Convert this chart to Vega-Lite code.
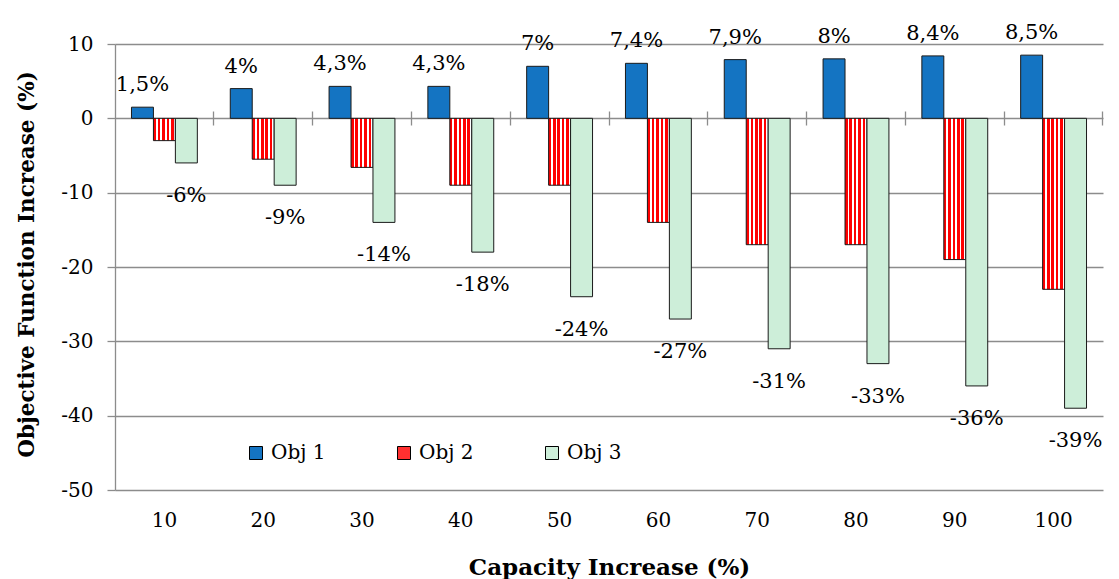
{
  "$schema": "https://vega.github.io/schema/vega-lite/v6.json",
  "width": 988,
  "height": 446,
  "autosize": {"type": "none"},
  "padding": {"left": 115, "top": 44, "right": 16, "bottom": 89},
  "background": "#ffffff",
  "config": {
    "view": {"stroke": null},
    "font": "DejaVu Serif",
    "locale": {"number": {"decimal": ",", "thousands": ".", "grouping": [3], "currency": ["", ""], "minus": "-"}},
    "axis": {"labelFont": "DejaVu Serif", "titleFont": "DejaVu Serif", "labelColor": "#000000", "titleColor": "#000000"}
  },
  "data": {
    "values": [
      {"cat": 10, "series": "Obj 1", "value": 1.5, "label": "1,5%"},
      {"cat": 10, "series": "Obj 2", "value": -3, "label": ""},
      {"cat": 10, "series": "Obj 3", "value": -6, "label": "-6%"},
      {"cat": 20, "series": "Obj 1", "value": 4, "label": "4%"},
      {"cat": 20, "series": "Obj 2", "value": -5.5, "label": ""},
      {"cat": 20, "series": "Obj 3", "value": -9, "label": "-9%"},
      {"cat": 30, "series": "Obj 1", "value": 4.3, "label": "4,3%"},
      {"cat": 30, "series": "Obj 2", "value": -6.6, "label": ""},
      {"cat": 30, "series": "Obj 3", "value": -14, "label": "-14%"},
      {"cat": 40, "series": "Obj 1", "value": 4.3, "label": "4,3%"},
      {"cat": 40, "series": "Obj 2", "value": -9, "label": ""},
      {"cat": 40, "series": "Obj 3", "value": -18, "label": "-18%"},
      {"cat": 50, "series": "Obj 1", "value": 7, "label": "7%"},
      {"cat": 50, "series": "Obj 2", "value": -9, "label": ""},
      {"cat": 50, "series": "Obj 3", "value": -24, "label": "-24%"},
      {"cat": 60, "series": "Obj 1", "value": 7.4, "label": "7,4%"},
      {"cat": 60, "series": "Obj 2", "value": -14, "label": ""},
      {"cat": 60, "series": "Obj 3", "value": -27, "label": "-27%"},
      {"cat": 70, "series": "Obj 1", "value": 7.9, "label": "7,9%"},
      {"cat": 70, "series": "Obj 2", "value": -17, "label": ""},
      {"cat": 70, "series": "Obj 3", "value": -31, "label": "-31%"},
      {"cat": 80, "series": "Obj 1", "value": 8, "label": "8%"},
      {"cat": 80, "series": "Obj 2", "value": -17, "label": ""},
      {"cat": 80, "series": "Obj 3", "value": -33, "label": "-33%"},
      {"cat": 90, "series": "Obj 1", "value": 8.4, "label": "8,4%"},
      {"cat": 90, "series": "Obj 2", "value": -19, "label": ""},
      {"cat": 90, "series": "Obj 3", "value": -36, "label": "-36%"},
      {"cat": 100, "series": "Obj 1", "value": 8.5, "label": "8,5%"},
      {"cat": 100, "series": "Obj 2", "value": -23, "label": ""},
      {"cat": 100, "series": "Obj 3", "value": -39, "label": "-39%"}
    ]
  },
  "resolve": {"axis": {"x": "independent"}},
  "layer": [
    {
      "mark": {"type": "bar", "stroke": "#1a1a1a", "strokeWidth": 1},
      "encoding": {
        "x": {
          "field": "cat", "type": "ordinal",
          "scale": {"paddingInner": 0.3333, "paddingOuter": 0.1667},
          "axis": {
            "orient": "bottom", "domain": false, "ticks": false, "grid": false,
            "labelAngle": 0, "labelFontSize": 20, "labelPadding": 20,
            "title": "Capacity Increase (%)", "titleFontSize": 23, "titleFontWeight": "bold",
            "titleBaseline": "alphabetic", "titleY": 84
          }
        },
        "xOffset": {
          "field": "series", "type": "nominal",
          "scale": {"domain": ["Obj 1", "Obj 2", "Obj 3"], "paddingInner": 0, "paddingOuter": 0}
        },
        "y": {
          "field": "value", "type": "quantitative",
          "scale": {"domain": [-50, 10], "nice": false, "zero": false},
          "axis": {
            "values": [-50, -40, -30, -20, -10, 0, 10],
            "grid": true, "gridColor": "#8c8c8c", "gridWidth": 1.3,
            "domain": true, "domainColor": "#8c8c8c", "domainWidth": 1.3,
            "ticks": true, "tickSize": 8, "tickColor": "#8c8c8c", "tickWidth": 1.3,
            "labelFontSize": 20, "labelPadding": 14,
            "title": "Objective Function Increase (%)", "titleFontSize": 21.5, "titleFontWeight": "bold",
            "titleBaseline": "alphabetic", "titleX": -82, "titleY": 220
          }
        },
        "fill": {
          "condition": {
            "test": "datum.series === 'Obj 2'",
            "value": {
              "gradient": "linear", "x1": 0, "y1": 0, "x2": 1, "y2": 0,
              "stops": [
                {"offset": 0, "color": "#ff0000"}, {"offset": 0.12, "color": "#ff0000"},
                {"offset": 0.12, "color": "#ffffff"}, {"offset": 0.2, "color": "#ffffff"},
                {"offset": 0.2, "color": "#ff0000"}, {"offset": 0.32, "color": "#ff0000"},
                {"offset": 0.32, "color": "#ffffff"}, {"offset": 0.4, "color": "#ffffff"},
                {"offset": 0.4, "color": "#ff0000"}, {"offset": 0.52, "color": "#ff0000"},
                {"offset": 0.52, "color": "#ffffff"}, {"offset": 0.6, "color": "#ffffff"},
                {"offset": 0.6, "color": "#ff0000"}, {"offset": 0.72, "color": "#ff0000"},
                {"offset": 0.72, "color": "#ffffff"}, {"offset": 0.8, "color": "#ffffff"},
                {"offset": 0.8, "color": "#ff0000"}, {"offset": 0.92, "color": "#ff0000"},
                {"offset": 0.92, "color": "#ffffff"}, {"offset": 1, "color": "#ffffff"}
              ]
            }
          },
          "field": "series", "type": "nominal",
          "scale": {"domain": ["Obj 1", "Obj 2", "Obj 3"], "range": ["#1474c2", "#ff3030", "#cdeed9"]},
          "legend": {
            "orient": "none", "direction": "horizontal", "legendX": 131, "legendY": 399,
            "title": null, "symbolType": "square", "symbolSize": 169,
            "symbolStrokeColor": "#000000", "symbolStrokeWidth": 1, "symbolOpacity": 1,
            "labelFont": "DejaVu Serif", "labelFontSize": 20, "labelColor": "#000000",
            "labelOffset": 5, "columnPadding": 68
          }
        }
      }
    },
    {
      "transform": [{"filter": "datum.series === 'Obj 1'"}],
      "mark": {"type": "text", "baseline": "alphabetic", "dy": -16, "fontSize": 21, "font": "DejaVu Serif", "color": "#000000"},
      "encoding": {
        "x": {"field": "cat", "type": "ordinal", "axis": null},
        "xOffset": {"field": "series", "type": "nominal", "scale": {"domain": ["Obj 1", "Obj 2", "Obj 3"]}},
        "y": {"field": "value", "type": "quantitative"},
        "text": {"field": "label", "type": "nominal"}
      }
    },
    {
      "transform": [{"filter": "datum.series === 'Obj 3'"}],
      "mark": {"type": "text", "baseline": "alphabetic", "dy": 39, "fontSize": 21, "font": "DejaVu Serif", "color": "#000000"},
      "encoding": {
        "x": {
          "field": "cat", "type": "ordinal",
          "axis": {
            "orient": "bottom", "offset": -379, "domain": false, "labels": false, "title": null, "grid": false,
            "ticks": true, "tickSize": 14, "tickColor": "#8c8c8c", "tickWidth": 1.3, "bandPosition": 1.25
          }
        },
        "xOffset": {"field": "series", "type": "nominal", "scale": {"domain": ["Obj 1", "Obj 2", "Obj 3"]}},
        "y": {"field": "value", "type": "quantitative"},
        "text": {"field": "label", "type": "nominal"}
      }
    }
  ]
}
